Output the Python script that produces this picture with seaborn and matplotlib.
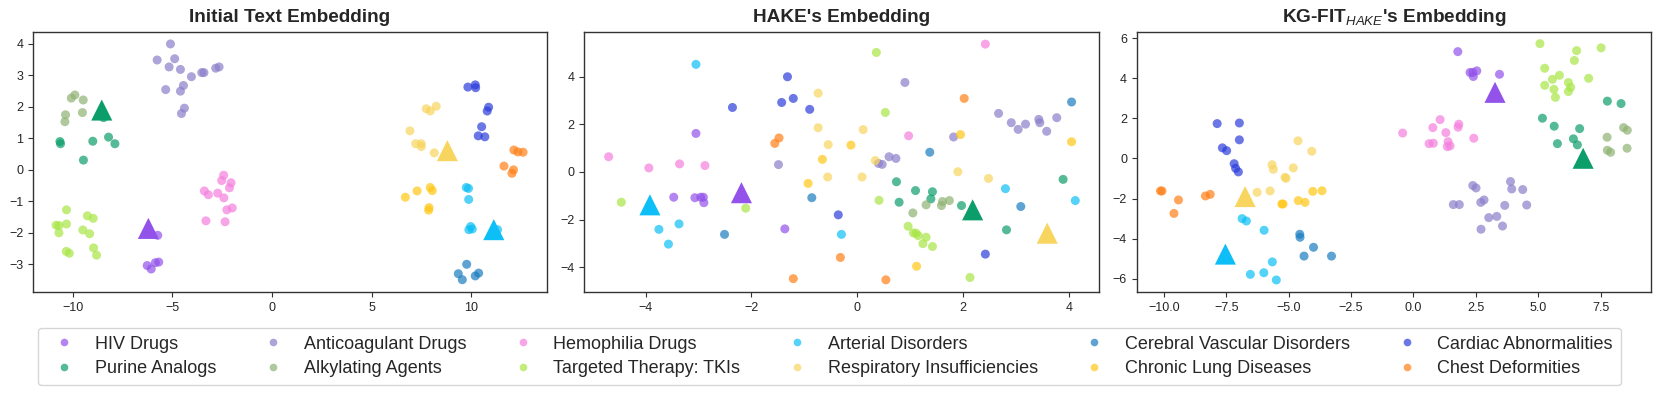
import numpy as np
import pandas as pd
import matplotlib
matplotlib.use("Agg")
import matplotlib.pyplot as plt
from matplotlib.lines import Line2D
import seaborn as sns

# ------------------------------
# categories + colours (legend order, column-major)
# ------------------------------
categories = ["HIV Drugs", "Purine Analogs", "Anticoagulant Drugs", "Alkylating Agents",
              "Hemophilia Drugs", "Targeted Therapy: TKIs", "Arterial Disorders",
              "Respiratory Insufficiencies", "Cerebral Vascular Disorders",
              "Chronic Lung Diseases", "Cardiac Abnormalities", "Chest Deformities"]
colors = ["#9352EA", "#0C9E6A", "#8B7FC9", "#8FB272", "#F57FDE", "#A8E646",
          "#0DBFF6", "#F8D55E", "#1A7DC0", "#FFC614", "#2B3DDB", "#FF7F17"]

# ------------------------------
# Initial Text Embedding
# ------------------------------
p1_n = [5, 7, 15, 6, 12, 13, 7, 8, 5, 6, 8, 6]
p1_x = [-5.74, -6.27, -6.07, -5.86, -5.69,
        -10.65, -10.62, -9.0, -8.21, -7.89, -9.47, -8.46,
        -5.10, -5.77, -4.89, -5.17, -4.60, -4.05, -3.53, -3.42, -2.83, -2.66, -5.34, -4.60, -4.45, -4.40, -4.55,
        -9.90, -10.08, -9.48, -10.37, -10.40, -9.52,
        -2.43, -2.53, -2.06, -2.14, -3.40, -3.20, -2.73, -2.42, -2.27, -2.00, -3.32, -2.36,
        -10.32, -10.84, -10.70, -10.32, -10.70, -9.27, -8.98, -9.50, -9.16, -10.33, -10.18, -8.96, -8.81,
        9.75, 9.86, 9.87, 9.97, 9.88, 10.05, 11.32,
        7.74, 7.94, 8.24, 6.92, 7.21, 7.49, 7.49, 8.14,
        9.77, 9.35, 9.55, 10.20, 10.37,
        6.69, 7.28, 7.94, 8.04, 7.88, 7.86,
        9.83, 10.20, 10.22, 10.87, 10.80, 10.52, 10.35, 10.68,
        12.14, 12.34, 12.60, 11.64, 12.12, 12.04]
p1_y = [-2.08, -3.04, -3.15, -2.95, -2.93,
        0.90, 0.83, 0.91, 1.04, 0.83, 0.31, 1.66,
        4.0, 3.49, 3.53, 3.27, 3.19, 2.96, 3.09, 3.09, 3.23, 3.27, 2.55, 2.50, 2.68, 1.96, 1.79,
        2.38, 2.28, 2.22, 1.75, 1.53, 1.82,
        -0.17, -0.34, -0.41, -0.57, -0.67, -0.79, -0.74, -0.89, -1.27, -1.21, -1.62, -1.65,
        -1.27, -1.76, -1.77, -1.72, -2.00, -1.46, -1.54, -1.91, -2.03, -2.59, -2.65, -2.48, -2.71,
        -0.56, -0.59, -0.94, -1.80, -1.90, -1.88, -1.90,
        1.94, 1.87, 2.02, 1.24, 0.83, 0.83, 0.74, 0.54,
        -3.0, -3.30, -3.49, -3.37, -3.28,
        -0.87, -0.67, -0.56, -0.66, -1.20, -1.28,
        2.63, 2.70, 2.61, 1.99, 1.87, 1.37, 1.08, 1.05,
        0.63, 0.57, 0.56, 0.12, 0.0, -0.11]
p1_tri_cat = ["Purine Analogs", "HIV Drugs", "Respiratory Insufficiencies", "Arterial Disorders"]
p1_tri_x = [-8.55, -6.21, 8.80, 11.13]
p1_tri_y = [1.90, -1.86, 0.61, -1.90]

# ------------------------------
# HAKE's Embedding
# ------------------------------
p2_n = [7, 8, 15, 5, 6, 13, 7, 9, 5, 6, 7, 6]
p2_x = [-3.05, -3.47, -3.07, -2.96, -2.91, -2.90, -1.37,
        0.74, 1.10, 0.79, 1.42, 1.39, 1.97, 2.82, 3.89,
        -1.49, 0.90, 1.82, 0.60, 0.73, 0.40, 0.47, 2.67, 2.91, 3.04, 3.18, 3.43, 3.45, 3.58, 3.77,
        1.30, 1.59, 1.61, 1.74, 1.05,
        -4.70, -3.94, -3.36, -2.88, 2.42, 0.97,
        -4.46, -2.11, 0.36, 0.53, 0.41, 0.96, 1.06, 1.11, 1.15, 1.30, 1.24, 1.42, 2.13,
        -3.05, -3.75, -3.37, -3.57, -0.30, 2.80, 4.12,
        -0.74, -0.74, -0.55, -0.56, 0.11, 0.34, 0.09, 1.90, 2.48,
        -2.51, -0.86, 1.37, 3.09, 4.05,
        -0.66, -0.93, -0.12, 1.95, 4.05, 1.12,
        -2.36, -1.32, -1.43, -1.21, -0.90, -0.36, 2.42,
        -1.56, -1.48, -1.21, -0.32, 2.02, 0.54]
p2_y = [1.62, -1.06, -1.08, -1.06, -1.06, -1.29, -2.39,
        -0.41, -0.78, -1.27, -0.83, -1.13, -1.41, -2.43, -0.31,
        0.31, 3.76, 1.47, 0.64, 0.57, 0.36, 0.32, 2.46, 2.07, 1.79, 2.01, 2.21, 2.07, 1.71, 2.28,
        -1.38, -1.41, -1.24, -1.20, -1.72,
        0.64, 0.17, 0.34, 0.27, 5.37, 1.52,
        -1.27, -1.52, 5.02, 2.50, -1.19, -2.28, -2.56, -2.57, -2.67, -2.74, -3.01, -3.13, -4.43,
        4.52, -2.41, -2.18, -3.03, -2.62, -0.70, -1.20,
        3.31, 1.86, 1.15, -0.21, 1.78, 0.48, -0.21, 0.01, -0.27,
        -2.62, -1.08, 0.83, -1.45, 2.94,
        0.53, -0.48, 1.13, 1.57, 1.27, -3.96,
        2.71, 4.0, 2.92, 3.09, 2.63, -1.80, -3.45,
        1.20, 1.43, -4.48, -3.59, 3.09, -4.53]
p2_tri_cat = ["Arterial Disorders", "HIV Drugs", "Purine Analogs", "Respiratory Insufficiencies"]
p2_tri_x = [-3.92, -2.19, 2.18, 3.59]
p2_tri_y = [-1.38, -0.87, -1.59, -2.57]

# ------------------------------
# KG-FIT_HAKE's Embedding
# ------------------------------
p3_n = [6, 8, 15, 6, 12, 14, 7, 9, 5, 6, 8, 6]
p3_x = [1.78, 2.27, 2.38, 2.54, 2.40, 3.45,
        7.77, 8.32, 5.17, 5.64, 6.66, 5.77, 6.41, 6.57,
        2.38, 2.51, 3.89, 3.94, 4.38, 1.60, 1.84, 2.70, 2.83, 3.66, 4.54, 3.02, 3.34, 3.57, 2.71,
        8.42, 8.57, 7.76, 7.77, 7.90, 8.56,
        -0.43, 1.07, 0.78, 1.82, 1.79, 1.30, 2.42, 0.63, 0.80, 1.39, 1.36, 1.47,
        5.07, 6.54, 7.52, 6.45, 5.26, 5.57, 5.85, 5.26, 5.63, 5.69, 6.21, 6.30, 6.21, 7.02,
        -6.86, -6.69, -5.98, -6.53, -5.99, -5.65, -5.49,
        -4.62, -4.07, -5.66, -5.61, -4.81, -5.14, -5.10, -6.26, -5.74,
        -4.55, -4.54, -4.00, -4.38, -3.28,
        -5.27, -5.22, -4.61, -4.34, -4.03, -3.66,
        -7.86, -6.97, -6.97, -7.65, -7.48, -7.18, -7.12, -7.01,
        -10.13, -10.07, -9.41, -9.59, -8.33, -8.14]
p3_y = [5.33, 4.29, 4.29, 4.37, 4.09, 4.20,
        2.86, 2.74, 2.01, 1.61, 1.49, 0.74, 0.98, 0.68,
        -1.35, -1.47, -1.15, -1.52, -1.55, -2.30, -2.30, -2.19, -2.07, -2.34, -2.32, -2.95, -2.89, -3.37, -3.53,
        1.54, 1.41, 1.06, 0.41, 0.31, 0.51,
        1.27, 1.94, 1.54, 1.71, 1.56, 1.29, 1.01, 0.74, 0.76, 0.84, 0.59, 0.63,
        5.73, 5.38, 5.52, 4.89, 4.50, 3.95, 4.15, 3.65, 3.45, 3.05, 3.79, 3.55, 3.34, 4.0,
        -3.0, -3.12, -3.58, -5.78, -5.70, -5.16, -6.06,
        0.88, 0.36, -0.31, -0.54, -0.47, -0.94, -0.99, -1.69, -1.62,
        -3.78, -3.93, -4.43, -4.87, -4.87,
        -2.27, -2.27, -2.10, -2.19, -1.64, -1.61,
        1.74, 1.77, 0.93, 0.53, 0.39, -0.26, -0.49, -0.67,
        -1.62, -1.62, -2.07, -2.74, -1.87, -1.79]
p3_tri_cat = ["HIV Drugs", "Purine Analogs", "Respiratory Insufficiencies", "Arterial Disorders"]
p3_tri_x = [3.27, 6.80, -6.74, -7.53]
p3_tri_y = [3.30, 0.01, -1.90, -4.77]

titles = ["Initial Text Embedding", "HAKE's Embedding", r"KG-FIT$_{HAKE}$'s Embedding"]

# ------------------------------
# style
# ------------------------------
sns.set_style("ticks")
plt.rcParams["font.family"] = ["Liberation Sans", "DejaVu Sans"]
plt.rcParams["mathtext.fontset"] = "custom"
plt.rcParams["mathtext.rm"] = "Liberation Sans"
plt.rcParams["mathtext.it"] = "Liberation Sans:italic"
plt.rcParams["mathtext.bf"] = "Liberation Sans:bold"

palette = dict(zip(categories, colors))

fig = plt.figure(figsize=(16.6, 3.95), dpi=100)

panels = [
    (p1_n, p1_x, p1_y, p1_tri_cat, p1_tri_x, p1_tri_y, [0.0199, 0.2608, 0.3096, 0.6582],
     (-12.0, 13.8), (-3.88, 4.38), [-10, -5, 0, 5, 10], [-3, -2, -1, 0, 1, 2, 3, 4]),
    (p2_n, p2_x, p2_y, p2_tri_cat, p2_tri_x, p2_tri_y, [0.3520, 0.2608, 0.3101, 0.6582],
     (-5.16, 4.57), (-5.04, 5.88), [-4, -2, 0, 2, 4], [-4, -2, 0, 2, 4]),
    (p3_n, p3_x, p3_y, p3_tri_cat, p3_tri_x, p3_tri_y, [0.6848, 0.2608, 0.3098, 0.6582],
     (-11.08, 9.52), (-6.66, 6.31), [-10, -7.5, -5, -2.5, 0, 2.5, 5, 7.5], [-6, -4, -2, 0, 2, 4, 6]),
]

for i, (n, xs, ys, tcat, tx, ty, rect, xlim, ylim, xt, yt) in enumerate(panels):
    ax = fig.add_axes(rect)
    df = pd.DataFrame({"x": xs, "y": ys, "group": np.repeat(categories, n)})
    sns.scatterplot(data=df, x="x", y="y", hue="group", hue_order=categories,
                    palette=palette, s=42, alpha=0.7, linewidth=0, ax=ax, legend=False)
    tri = pd.DataFrame({"x": tx, "y": ty, "group": tcat})
    sns.scatterplot(data=tri, x="x", y="y", hue="group", palette=palette,
                    marker="^", s=230, linewidth=0, ax=ax, legend=False)
    ax.set_xlim(*xlim)
    ax.set_ylim(*ylim)
    ax.set_xticks(xt)
    ax.set_yticks(yt)
    ax.set_xlabel("")
    ax.set_ylabel("")
    ax.tick_params(labelsize=9, length=3.5, width=0.8, color="#333333")
    for sp in ax.spines.values():
        sp.set_visible(True)
        sp.set_color("#333333")
        sp.set_linewidth(1.0)
    ax.set_title(titles[i], fontsize=13.7, fontweight="bold", pad=7)

handles = [Line2D([], [], marker="o", linestyle="", markersize=5.5, markeredgewidth=0,
                  color=c, alpha=0.7) for c in colors]
fig.legend(handles, categories, ncol=6, loc="lower left",
           bbox_to_anchor=(0.0229, 0.025, 0.9536, 0.149), mode="expand",
           fontsize=13, frameon=True, edgecolor="#cccccc", fancybox=True,
           borderaxespad=0.0, borderpad=0.45, labelspacing=0.4, handletextpad=0.7)

fig.savefig("out.png", dpi=100)
